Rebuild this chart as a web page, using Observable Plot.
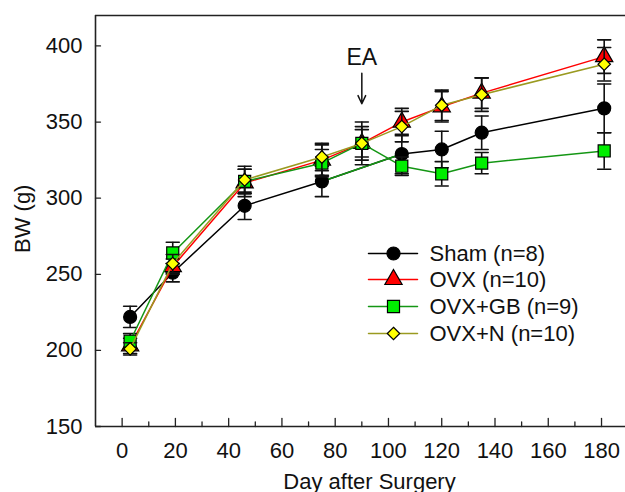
<!DOCTYPE html>
<html><head><meta charset="utf-8">
<script src="https://cdn.jsdelivr.net/npm/d3@7"></script>
<script src="https://cdn.jsdelivr.net/npm/@observablehq/plot@0.6"></script>
<style>
body{margin:0;background:#fff;}
#chart{width:625px;height:492px;}
</style></head><body><div id="chart"></div>
<script>
// ---- data ----
const days = [3, 19, 46, 75, 90, 105, 120, 135, 181];
const shamMean = [222, 251, 295, 311, null, 329, 332, 343, 359];
const shamSE   = [7, 6, 9, 10, null, 13, 12, 11, 16];
const ovxMean  = [203, 255, 310, 325, 336, 350, 360, 369, 393];
const ovxSE    = [5, 5, 9, 10, 14, 9, 10, 10, 11];
const gbMean   = [206, 264, 311, 323, 336, 321, 316, 323, 331];
const gbSE     = [5, 7, 8, 9, 11, 6, 8, 7, 12];
const nMean    = [201, 257, 312, 327, 336, 347, 361, 368, 388];
const nSE      = [4, 6, 9, 9, 9, 10, 10, 11, 11];
const groupNames = ["Sham (n=8)", "OVX (n=10)", "OVX+GB (n=9)", "OVX+N (n=10)"];
// in the original, the Sham segment from day 75 to day 105 is drawn in green
const shamGreenSegmentDays = [75, 105];
const xTicks = [0, 20, 40, 60, 80, 100, 120, 140, 160, 180];
const xMinorTicks = [10, 30, 50, 70, 90, 110, 130, 150, 170];
const yTicks = [150, 200, 250, 300, 350, 400];
const xDomain = [-10, 189];
const yDomain = [150, 420];
const eaDay = 90;
const eaLabel = "EA";
const eaLabelBW = 387.5;
const eaArrowBW = [382, 362];

// ---- styles ----
const styles = [
  {line: "#000000", fill: "#000000", symbol: "circle", r: 6.5},
  {line: "#ff0000", fill: "#ff0000", symbol: "triangle", r: 6.4},
  {line: "#149614", fill: "#00ee00", symbol: "square", r: 6.8},
  {line: "#9a9a20", fill: "#ffff00", symbol: "diamond2", r: 5.6}
];
const means = [shamMean, ovxMean, gbMean, nMean];
const ses = [shamSE, ovxSE, gbSE, nSE];

const lineShape = {draw(ctx, l) { ctx.moveTo(0, 0); ctx.lineTo(0, -l); }};
const axisColor = "#222";

const marks = [];
// frame: left, top, bottom
marks.push(Plot.ruleX([xDomain[0]], {stroke: axisColor, strokeWidth: 1.6}));
marks.push(Plot.ruleY([yDomain[0], yDomain[1]], {stroke: axisColor, strokeWidth: 1.6}));
// inward ticks
marks.push(Plot.vector(xTicks, {x: d => d, frameAnchor: "bottom", length: 8, anchor: "start", shape: lineShape, stroke: axisColor, strokeWidth: 1.3}));
marks.push(Plot.vector(xMinorTicks, {x: d => d, frameAnchor: "bottom", length: 4.5, anchor: "start", shape: lineShape, stroke: axisColor, strokeWidth: 1.3}));
marks.push(Plot.vector(yTicks, {y: d => d, frameAnchor: "left", length: 5, rotate: 90, anchor: "start", shape: lineShape, stroke: axisColor, strokeWidth: 1.3}));
// tick labels
marks.push(Plot.axisX(xTicks, {tickSize: 0, tickPadding: 16, label: null, fill: "#111"}));
marks.push(Plot.axisY(yTicks, {tickSize: 0, tickPadding: 13, label: null, fill: "#111"}));
// axis titles
marks.push(Plot.text(["Day after Surgery"], {frameAnchor: "bottom", dy: 62, dx: 9, lineAnchor: "bottom", fill: "#111"}));
marks.push(Plot.text(["BW (g)"], {frameAnchor: "left", dx: -66, dy: 32, rotate: -90, lineAnchor: "bottom", fill: "#111"}));

// series
means.forEach((m, gi) => {
  const st = styles[gi];
  const rows = days.map((d, i) => ({day: d, bw: m[i], lo: m[i] == null ? null : m[i] - ses[gi][i], hi: m[i] == null ? null : m[i] + ses[gi][i]}))
    .filter(r => r.bw != null);
  marks.push(Plot.ruleX(rows, {x: "day", y1: "lo", y2: "hi", stroke: "#111", strokeWidth: 1.6}));
  marks.push(Plot.vector(rows, {x: "day", y: "hi", length: 13, rotate: 90, anchor: "middle", shape: lineShape, stroke: "#111", strokeWidth: 1.6}));
  marks.push(Plot.vector(rows, {x: "day", y: "lo", length: 13, rotate: 90, anchor: "middle", shape: lineShape, stroke: "#111", strokeWidth: 1.6}));
  marks.push(Plot.line(rows, {x: "day", y: "bw", stroke: st.line, strokeWidth: 1.5}));
  if (gi === 0) {
    marks.push(Plot.line(rows.filter(r => shamGreenSegmentDays.includes(r.day)), {x: "day", y: "bw", stroke: styles[2].line, strokeWidth: 1.5}));
  }
  marks.push(Plot.dot(rows, {x: "day", y: "bw", symbol: st.symbol, r: st.r, fill: st.fill, stroke: "#000", strokeWidth: 1.2}));
});

// EA annotation
marks.push(Plot.text([eaLabel], {x: eaDay, y: eaLabelBW, lineAnchor: "bottom", fontSize: 23, fill: "#111"}));
marks.push(Plot.arrow([eaDay], {x1: d => d, x2: d => d, y1: eaArrowBW[0], y2: eaArrowBW[1], stroke: "#111", strokeWidth: 1.5, headLength: 9, headAngle: 50}));

// legend
const legendRows = [253, 279, 306, 333];
groupNames.forEach((name, gi) => {
  const st = styles[gi];
  const dy = legendRows[gi] - 15;
  marks.push(Plot.vector([0], {frameAnchor: "top-left", dx: 273, dy, length: 49, rotate: 90, anchor: "start", shape: lineShape, stroke: st.line, strokeWidth: 1.5}));
  marks.push(Plot.dot([0], {frameAnchor: "top-left", dx: 298, dy, symbol: st.symbol, r: st.r, fill: st.fill, stroke: "#000", strokeWidth: 1.2}));
  marks.push(Plot.text([name], {frameAnchor: "top-left", dx: 334, dy, textAnchor: "start", lineAnchor: "middle", fill: "#111"}));
});

const chart = Plot.plot({
  width: 625,
  height: 492,
  marginLeft: 95,
  marginRight: 0,
  marginTop: 15,
  marginBottom: 66,
  x: {domain: xDomain},
  y: {domain: yDomain},
  style: {fontFamily: "'Liberation Sans', Arial, sans-serif", fontSize: "22px", background: "#fff", color: "#111"},
  marks
});
document.getElementById("chart").appendChild(chart);
</script>
</body></html>
